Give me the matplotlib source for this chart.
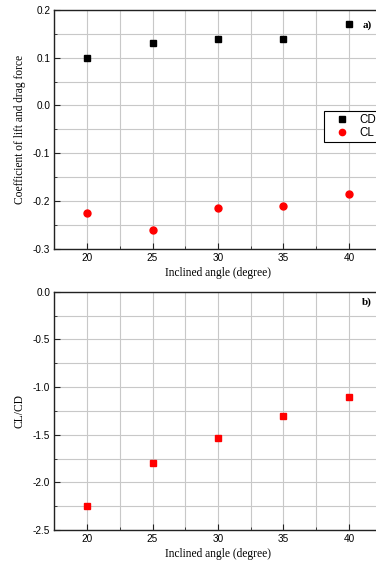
import matplotlib
matplotlib.use("Agg")
import matplotlib.pyplot as plt
from matplotlib.ticker import MultipleLocator, FormatStrFormatter

angle = [20, 25, 30, 35, 40]
CD = [0.10, 0.13, 0.14, 0.14, 0.17]
CL = [-0.225, -0.26, -0.215, -0.21, -0.185]
CL_CD = [-2.25, -1.80, -1.54, -1.30, -1.10]

sans = "Liberation Sans"
serif = "Liberation Serif"

fig = plt.figure(figsize=(3.76, 5.65), dpi=100)
ax1 = fig.add_axes([54.3/376, 1-248.7/565, 327.4/376, 238.7/565])
ax2 = fig.add_axes([54.3/376, 1-530/565, 327.4/376, 238.3/565])

def style(ax, ymin, ymax, ymaj, ymin_step):
  ax.set_xlim(17.5, 42.5)
  ax.set_ylim(ymin, ymax)
  ax.xaxis.set_major_locator(MultipleLocator(5))
  ax.xaxis.set_minor_locator(MultipleLocator(2.5))
  ax.yaxis.set_major_locator(MultipleLocator(ymaj))
  ax.yaxis.set_minor_locator(MultipleLocator(ymin_step))
  ax.yaxis.set_major_formatter(FormatStrFormatter("%.1f"))
  ax.grid(True, which="both", color="#c8c8c8", lw=0.8)
  ax.set_axisbelow(True)
  ax.tick_params(which="both", direction="in", labelsize=7.2, color="#222222", pad=3,
                 labelfontfamily=sans)
  ax.tick_params(which="major", length=4)
  ax.tick_params(which="minor", length=2.5)
  for s in ax.spines.values():
    s.set_linewidth(1.0)
    s.set_color("#222222")
  ax.set_xlabel("Inclined angle (degree)", fontfamily=serif, fontsize=8.3, labelpad=3)

style(ax1, -0.3, 0.2, 0.1, 0.05)
ax1.plot(angle, CD, "s", color="black", ms=5, label="CD", ls="none")
ax1.plot(angle, CL, "o", color="red", ms=5, label="CL", ls="none")
ax1.set_ylabel("Coefficient of lift and drag force", fontfamily=serif, fontsize=8.3, labelpad=5)
leg = ax1.legend(loc="upper left", bbox_to_anchor=(0.824, 0.578), frameon=True, fancybox=False,
                 edgecolor="black", prop={"family": sans, "size": 8.3}, handletextpad=0.2,
                 borderpad=0.25, labelspacing=0.15, handlelength=2.6, borderaxespad=0,
                 framealpha=1, markerscale=0.9)
leg.get_frame().set_linewidth(0.8)
ax1.text(0.955, 0.937, "a)", transform=ax1.transAxes, fontfamily=serif, fontweight="bold",
         fontsize=8, ha="center", va="center")

style(ax2, -2.5, 0.0, 0.5, 0.25)
ax2.plot(angle, CL_CD, "s", color="red", ms=5, ls="none")
ax2.set_ylabel("CL/CD", fontfamily=serif, fontsize=8.3, labelpad=5)
ax2.text(0.955, 0.958, "b)", transform=ax2.transAxes, fontfamily=serif, fontweight="bold",
         fontsize=8, ha="center", va="center")

fig.savefig("out.png", dpi=100)
